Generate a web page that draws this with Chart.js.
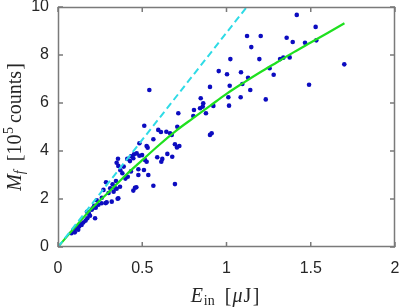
<!DOCTYPE html>
<html>
<head>
<meta charset="utf-8">
<script src="https://cdn.jsdelivr.net/npm/chart.js@4.4.0/dist/chart.umd.min.js"></script>
<style>
  html, body { margin: 0; padding: 0; background: #fff; }
  #wrap { width: 400px; height: 308px; }
</style>
</head>
<body>
<div id="wrap"><canvas id="chart"></canvas></div>
<script>
// measured points: input energy (uJ) and counts (1e5)
const energyIn = [
  0.08, 0.09, 0.10, 0.11, 0.125, 0.13, 0.14, 0.10, 0.12, 0.15, 0.164, 0.174, 0.172, 0.184, 0.22, 0.20,
  0.206, 0.224, 0.215, 0.19, 0.24, 0.259, 0.283, 0.289, 0.319, 0.285, 0.324, 0.340, 0.348, 0.368, 0.358,
  0.344, 0.30, 0.26, 0.27, 0.23, 0.31, 0.33,
  0.348, 0.358, 0.356, 0.382, 0.414, 0.433, 0.411, 0.427, 0.433, 0.451, 0.447, 0.467, 0.483, 0.499, 0.516,
  0.526, 0.465, 0.447, 0.457, 0.483, 0.512, 0.526, 0.532, 0.566, 0.595, 0.611, 0.643, 0.665, 0.675, 0.694,
  0.720, 0.706, 0.708, 0.714, 0.477, 0.510, 0.477, 0.536, 0.589, 0.619, 0.613, 0.649, 0.678, 0.566, 0.694,
  0.354, 0.542, 0.39, 0.40, 0.37,
  0.803, 0.807, 0.843, 0.862, 0.859, 0.878, 0.922, 0.847, 1.011, 1.015, 0.902, 0.912, 0.902, 0.954, 1.003,
  1.019, 1.023, 1.084, 1.086, 1.094, 1.122, 1.128, 1.141, 1.147, 1.195, 1.203, 1.233, 1.256, 1.280, 1.318,
  1.337, 1.357, 1.375, 1.393, 1.417, 1.466, 1.490, 1.529, 1.533, 1.699
];
const counts = [
  0.57, 0.67, 0.61, 0.80, 0.85, 0.96, 0.92, 0.75, 0.72, 1.02, 1.10, 1.20, 1.47, 1.38, 1.20, 1.55,
  1.61, 1.64, 1.72, 1.30, 1.76, 1.82, 1.83, 1.86, 1.89, 2.70, 2.61, 2.45, 2.43, 2.51, 2.03,
  2.75, 2.25, 2.05, 2.38, 1.95, 2.45, 2.30,
  3.51, 3.38, 3.68, 3.07, 2.93, 3.15, 3.67, 3.58, 3.78, 3.86, 3.70, 3.90, 3.80, 3.83, 3.63,
  3.55, 2.49, 2.35, 2.47, 4.32, 5.05, 4.21, 4.14, 4.49, 4.88, 4.79, 4.80, 4.74, 4.67, 4.28,
  4.21, 4.15, 5.01, 5.57, 3.24, 3.21, 3.00, 3.00, 3.74, 3.67, 3.55, 3.88, 3.76, 2.55, 2.62,
  2.01, 6.54, 3.35, 2.85, 3.20,
  5.46, 5.71, 5.78, 5.99, 5.85, 5.57, 5.88, 6.20, 6.24, 5.89, 4.67, 4.74, 6.67, 7.33, 7.20,
  6.72, 7.83, 6.24, 7.28, 6.79, 8.79, 7.05, 6.54, 8.33, 7.83, 8.79, 6.15, 7.45, 7.18, 7.83,
  7.89, 8.72, 7.90, 8.54, 9.67, 8.51, 6.76, 9.17, 8.61, 7.61
];

// green fitted curve
const fitX = [0, 0.1, 0.2, 0.3, 0.4, 0.5, 0.6, 0.7, 0.8, 0.9, 1.0, 1.1, 1.2, 1.3, 1.4, 1.5, 1.6, 1.7];
const fitY = [0, 0.82, 1.60, 2.28, 2.98, 3.62, 4.25, 4.84, 5.36, 5.87, 6.38, 6.84, 7.28, 7.70, 8.12, 8.52, 8.92, 9.32];

// cyan dashed linear trend
const linX = [0, 1.12];
const linY = [0, 10];

const xTicks = [0, 0.5, 1, 1.5, 2];
const yTicks = [0, 2, 4, 6, 8, 10];

const pts = (xs, ys) => xs.map((x, i) => ({ x, y: ys[i] }));

const boxColor = '#7a7a7a';

const axesDecor = {
  id: 'axesDecor',
  afterDraw(chart) {
    const { ctx, chartArea: a } = chart;
    const sx = chart.scales.x, sy = chart.scales.y;
    ctx.save();
    ctx.setLineDash([]);
    ctx.strokeStyle = boxColor;
    ctx.lineWidth = 1.5;
    ctx.strokeRect(a.left + 0.5, a.top + 0.5, a.right - a.left - 1, a.bottom - a.top - 1);
    ctx.beginPath();
    for (const v of xTicks) {
      const px = sx.getPixelForValue(v);
      ctx.moveTo(px, a.bottom); ctx.lineTo(px, a.bottom - 5);
      ctx.moveTo(px, a.top); ctx.lineTo(px, a.top + 5);
    }
    for (const v of yTicks) {
      const py = sy.getPixelForValue(v);
      ctx.moveTo(a.left, py); ctx.lineTo(a.left + 5, py);
      ctx.moveTo(a.right, py); ctx.lineTo(a.right - 5, py);
    }
    ctx.stroke();
    ctx.restore();

    const serif = '"Liberation Serif", "DejaVu Serif", serif';
    ctx.save();
    ctx.fillStyle = '#262626';
    ctx.textBaseline = 'alphabetic';
    ctx.textAlign = 'left';
    const xParts = [
      { t: 'E', font: `italic 20px ${serif}`, gap: 1 },
      { t: 'in', font: `14px ${serif}`, dy: 3, gap: 10 },
      { t: '[', font: `20px ${serif}`, gap: 1 },
      { t: 'μ', font: `italic 20px ${serif}`, gap: 1 },
      { t: 'J', font: `20px ${serif}`, gap: 1.5 },
      { t: ']', font: `20px ${serif}` }
    ];
    runs(ctx, xParts, 225 - runsWidth(ctx, xParts) / 2, 302);
    const yParts = [
      { t: 'M', font: `italic 20px ${serif}`, gap: 0 },
      { t: 'f', font: `italic 14px ${serif}`, dy: 3, gap: 9 },
      { t: '[10', font: `20px ${serif}`, gap: 0.5 },
      { t: '5', font: `14px ${serif}`, dy: -8, gap: 4 },
      { t: 'counts', font: `20px ${serif}`, gap: 1 },
      { t: ']', font: `20px ${serif}` }
    ];
    const yw = runsWidth(ctx, yParts);
    ctx.translate(21, (a.top + a.bottom) / 2);
    ctx.rotate(-Math.PI / 2);
    runs(ctx, yParts, -yw / 2, 0);
    ctx.restore();
  }
};

function runsWidth(ctx, parts) {
  let w = 0;
  for (const p of parts) { ctx.font = p.font; w += ctx.measureText(p.t).width + (p.gap || 0); }
  return w;
}
function runs(ctx, parts, x, y) {
  let cx = x;
  for (const p of parts) {
    ctx.font = p.font;
    ctx.fillText(p.t, cx, y + (p.dy || 0));
    cx += ctx.measureText(p.t).width + (p.gap || 0);
  }
}

const tickFont = { family: '"Liberation Sans", Arial, sans-serif', size: 16 };

new Chart(document.getElementById('chart').getContext('2d'), {
  type: 'scatter',
  data: {
    datasets: [
      { label: 'linear', data: pts(linX, linY), showLine: true, borderColor: '#2fdbe6', borderWidth: 2,
        borderDash: [7, 4], pointRadius: 0, fill: false, order: 1 },
      { label: 'fit', data: pts(fitX, fitY), showLine: true, borderColor: '#1fe01f', borderWidth: 2.2,
        pointRadius: 0, fill: false, cubicInterpolationMode: 'monotone', order: 2 },
      { label: 'data', data: pts(energyIn, counts), backgroundColor: '#0c0cc0', borderWidth: 0,
        pointRadius: 2.3, order: 3 }
    ]
  },
  options: {
    responsive: true, maintainAspectRatio: false, animation: false,
    layout: { padding: { left: 0, top: 7, right: 5, bottom: 0 } },
    plugins: { legend: { display: false }, tooltip: { enabled: false } },
    scales: {
      x: {
        type: 'linear', min: 0, max: 2,
        afterBuildTicks: s => { s.ticks = xTicks.map(v => ({ value: v })); },
        afterFit: s => { s.height = 61; s.paddingLeft = 0; s.paddingRight = 0; },
        grid: { display: false, drawTicks: false }, border: { display: false },
        ticks: { color: '#262626', font: tickFont, padding: 12, maxRotation: 0, callback: v => String(v) }
      },
      y: {
        type: 'linear', min: 0, max: 10,
        afterBuildTicks: s => { s.ticks = yTicks.map(v => ({ value: v })); },
        afterFit: s => { s.width = 58; s.paddingTop = 0; s.paddingBottom = 0; },
        grid: { display: false, drawTicks: false }, border: { display: false },
        ticks: { color: '#262626', font: tickFont, padding: 9, callback: v => String(v) }
      }
    }
  },
  plugins: [axesDecor]
});
</script>
</body>
</html>
